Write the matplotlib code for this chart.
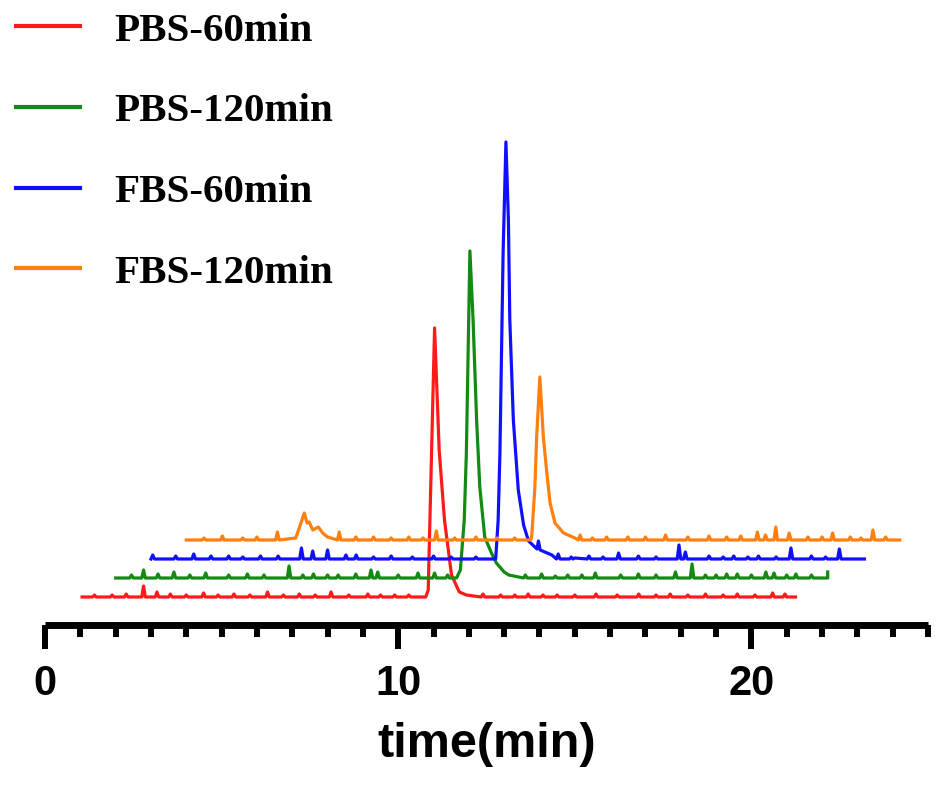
import numpy as np
import matplotlib
matplotlib.use("Agg")
import matplotlib.pyplot as plt

# sample names and colours
labels = ["PBS-60min", "PBS-120min", "FBS-60min", "FBS-120min"]
colors = ["#ff1a1a", "#138a13", "#1010ff", "#ff8010"]

# the traces are staggered: each one shifted right and up
time_shift = [1, 2, 3, 4]
level_shift = [0, 19, 38, 57]
run_start = [0.05, 0.0, 0.0, 0.0]
run_end = [20.25, 20.16, 20.2, 20.2]

# main peak around 10 min (time in min, signal in a.u.)
peak_t_pbs60 = [9.78, 9.85, 10.03, 10.16, 10.31, 10.51, 10.73, 10.93]
peak_h_pbs60 = [0, 7, 269, 147, 77, 22, 5, 2]
peak_t_pbs120 = [9.65, 9.76, 9.87, 9.93, 9.98, 10.03, 10.12, 10.22, 10.31,
                 10.45, 10.64, 10.78, 11.0, 11.13]
peak_h_pbs120 = [0, 8, 58, 125, 225, 327, 258, 158, 91, 41, 25, 15, 6, 3]
peak_t_fbs60 = [9.76, 9.83, 9.88, 9.97, 10.05, 10.12, 10.16, 10.26, 10.40,
                10.55, 10.69, 10.93, 10.97, 11.02, 11.35, 12.0]
peak_h_fbs60 = [0, 39, 106, 306, 417, 339, 239, 139, 69, 34, 18, 10, 18, 9, 4, 1]
peak_t_fbs120 = [3.10, 3.20, 3.34, 3.42, 3.48, 3.58, 3.74, 3.86, 4.0,
                 9.75, 9.78, 9.87, 9.92, 10.01, 10.11, 10.20, 10.30, 10.44,
                 10.68, 11.0]
peak_h_fbs120 = [2, 12, 27, 17, 18, 10, 13, 7, 3,
                 0, 3, 53, 103, 163, 103, 70, 37, 17, 7, 2]

# small baseline spikes (time in min, height)
spike_t_pbs60 = [0.4, 0.9, 1.3, 1.79, 2.17, 2.55, 3.0, 3.49, 3.9, 4.35, 4.8,
                 5.30, 5.75, 6.2, 6.65, 7.10, 7.6, 8.14, 8.5, 8.9, 9.3,
                 11.4, 11.9, 12.3, 12.68, 13.1, 13.5, 14.0, 14.6, 15.2, 15.81,
                 16.3, 16.7, 17.2, 17.7, 18.2, 18.6, 19.1, 19.6, 19.95]
spike_h_pbs60 = [2, 2, 3, 11, 5, 3, 2, 4, 2, 3, 2,
                 5, 2, 3, 2, 5, 2, 3, 2, 2, 2,
                 3, 2, 2, 3, 2, 2, 2, 3, 2, 3,
                 2, 3, 2, 3, 2, 3, 2, 4, 3]
spike_t_pbs120 = [0.45, 0.79, 1.2, 1.65, 2.1, 2.55, 3.2, 3.73, 4.2, 4.91,
                  5.3, 5.6, 6.0, 6.3, 6.8, 7.23, 7.42, 8.0, 8.56, 9.03, 9.4,
                  11.6, 12.06, 12.45, 12.8, 13.2, 13.58, 14.3, 14.8, 15.3,
                  15.85, 16.32, 16.7, 17.0, 17.3, 17.6, 18.0, 18.41, 18.64,
                  19.0, 19.26, 19.7, 20.16]
spike_h_pbs120 = [3, 8, 4, 6, 3, 5, 3, 4, 3, 12,
                  3, 4, 3, 3, 4, 8, 6, 3, 5, 5, 3,
                  3, 4, 2, 3, 3, 5, 3, 4, 3,
                  6, 14, 3, 3, 4, 4, 3, 6, 5,
                  3, 4, 3, 6]
spike_t_fbs60 = [0.05, 0.7, 1.21, 1.7, 2.2, 2.6, 3.1, 3.6, 4.26, 4.58,
                 5.0, 5.52, 5.81, 6.3, 6.8, 7.4, 8.0, 8.5, 9.2, 11.53,
                 11.9, 12.4, 12.8, 13.24, 13.8, 14.3, 14.95, 15.13, 15.8,
                 16.2, 16.5, 16.9, 17.2, 17.7, 18.12, 18.7, 19.1, 19.49]
spike_h_fbs60 = [4, 3, 5, 3, 3, 2, 3, 3, 11, 8,
                 9, 4, 4, 2, 3, 2, 3, 2, 2, 5,
                 2, 3, 2, 6, 3, 2, 14, 7, 3,
                 2, 3, 2, 3, 2, 11, 3, 2, 10]
spike_t_fbs120 = [0.5, 1.02, 1.6, 2.0, 2.58, 4.33, 4.8, 5.3, 5.8, 6.3,
                  6.7, 7.08, 7.6, 8.2, 8.8, 9.3, 11.15, 11.5, 11.9, 12.5,
                  13.0, 13.57, 14.2, 14.8, 15.3, 15.7, 16.17, 16.4, 16.69,
                  17.07, 17.6, 18.0, 18.3, 18.8, 19.1, 19.44, 19.8]
spike_h_fbs120 = [2, 4, 2, 3, 8, 8, 3, 3, 2, 3,
                  2, 9, 2, 3, 2, 2, 5, 2, 3, 3,
                  3, 5, 3, 4, 3, 4, 8, 5, 13,
                  7, 3, 3, 7, 3, 2, 10, 3]

peaks_t = [peak_t_pbs60, peak_t_pbs120, peak_t_fbs60, peak_t_fbs120]
peaks_h = [peak_h_pbs60, peak_h_pbs120, peak_h_fbs60, peak_h_fbs120]
spikes_t = [spike_t_pbs60, spike_t_pbs120, spike_t_fbs60, spike_t_fbs120]
spikes_h = [spike_h_pbs60, spike_h_pbs120, spike_h_fbs60, spike_h_fbs120]


def build_trace(t0, t1, pk_t, pk_h, sp_t, sp_h, half=0.05):
    """join run ends, peak profile and narrow spikes into one line"""
    pts = [(t0, 0.0), (t1, 0.0)] + list(zip(pk_t, pk_h))
    for t, h in zip(sp_t, sp_h):
        pts.append((t, h))
        if t - half > t0:
            pts.append((t - half, 0.0))
        if t + half < t1:
            pts.append((t + half, 0.0))
    pts.sort(key=lambda p: p[0])
    arr = np.array(pts)
    return arr[:, 0], arr[:, 1]


W, H = 945, 798
fig = plt.figure(figsize=(W / 100, H / 100), dpi=100)
ax = fig.add_axes([45 / W, (H - 625) / H, (928 - 45) / W, 625 / H])

for i in range(4):
    t, s = build_trace(run_start[i], run_end[i], peaks_t[i], peaks_h[i],
                       spikes_t[i], spikes_h[i])
    ax.plot(t + time_shift[i], s + level_shift[i], color=colors[i], lw=2.3,
            label=labels[i], solid_joinstyle='round')

ax.set_xlim(0, 25)
ax.set_ylim(-28, 597)

for side in ['top', 'right', 'left']:
    ax.spines[side].set_visible(False)
ax.spines['bottom'].set_linewidth(5)
ax.spines['bottom'].set_capstyle('butt')
ax.set_yticks([])
ax.set_xticks([0, 10, 20])
ax.set_xticks(np.arange(0, 26, 1), minor=True)
ax.tick_params(axis='x', which='major', length=17, width=4.3, pad=11,
               labelsize=30)
ax.tick_params(axis='x', which='minor', length=8.5, width=4.3)
for lab in ax.get_xticklabels():
    lab.set_fontfamily('Liberation Sans')
    lab.set_fontweight('bold')
ax.set_xlabel('time(min)', fontsize=35, fontweight='bold',
              family='Liberation Sans', labelpad=13)

leg = ax.legend(loc='upper left', bbox_to_anchor=(16 / W, 1 - 12 / H),
                bbox_transform=fig.transFigure, frameon=False,
                prop={'family': 'Liberation Serif', 'weight': 'bold', 'size': 29.5},
                handlelength=1.55, handletextpad=0.85, labelspacing=1.05,
                borderpad=0, borderaxespad=0)
for ln in leg.get_lines():
    ln.set_linewidth(3)

fig.savefig('out.png', dpi=100)
